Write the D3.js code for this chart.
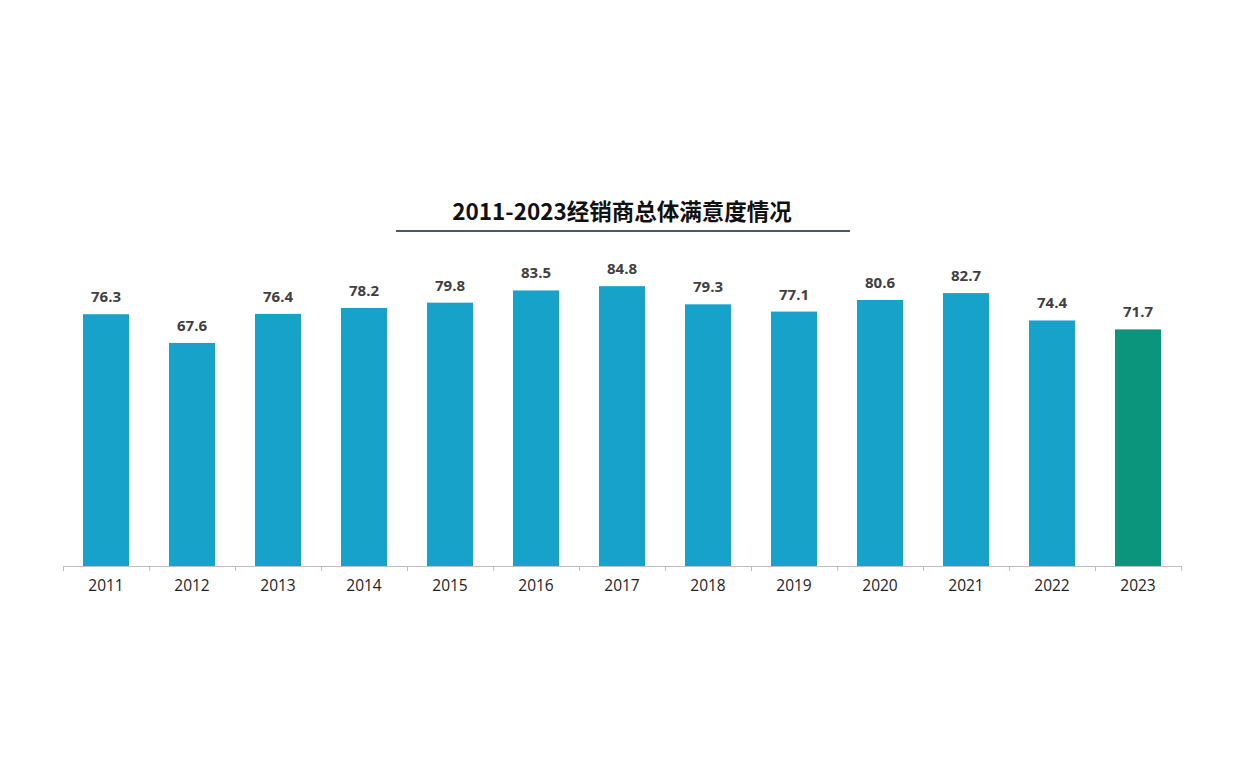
<!DOCTYPE html>
<html><head><meta charset="utf-8">
<script src="https://cdn.jsdelivr.net/npm/d3@7"></script>
<style>body{margin:0;background:#fff}svg{display:block}</style>
</head><body>
<svg id="c" width="1242" height="781"></svg>
<script>
const years = ["2011","2012","2013","2014","2015","2016","2017","2018","2019","2020","2021","2022","2023"];
const scores = [76.3,67.6,76.4,78.2,79.8,83.5,84.8,79.3,77.1,80.6,82.7,74.4,71.7];
const titleText = "2011-2023经销商总体满意度情况";

const svg = d3.select("#c");
const x = d3.scaleBand().domain(years).range([63,1181]).paddingInner(0.465).paddingOuter(0.2325);
const y = d3.scaleLinear().domain([0,100]).range([566,236]);

svg.append("text").attr("x",622).attr("y",220).attr("text-anchor","middle")
  .attr("font-family","'Noto Sans CJK SC','Noto Sans',sans-serif").attr("font-weight","bold")
  .attr("font-size",22.5).attr("fill","#111").text(titleText);
svg.append("line").attr("x1",396).attr("x2",850).attr("y1",231).attr("y2",231)
  .attr("stroke","#4f5a60").attr("stroke-width",2);

svg.selectAll("rect.bar").data(years).enter().append("rect")
  .attr("x",d=>x(d)).attr("width",x.bandwidth())
  .attr("y",(d,i)=>y(scores[i])).attr("height",(d,i)=>y(0)-y(scores[i]))
  .attr("fill",(d,i)=>i===years.length-1?"#0b957d":"#17a2c9");

svg.selectAll("text.val").data(years).enter().append("text")
  .attr("x",d=>x(d)+x.bandwidth()/2).attr("y",(d,i)=>y(scores[i])-12)
  .attr("text-anchor","middle").attr("font-family","'Open Sans','Noto Sans',sans-serif")
  .attr("font-weight","bold").attr("font-size",15).attr("fill","#404040")
  .text((d,i)=>scores[i].toFixed(1));

const axis = d3.axisBottom(x).tickSize(0).tickPadding(14);
const g = svg.append("g").attr("transform","translate(0,566)").call(axis);
g.select(".domain").attr("stroke","#bfbfbf").attr("d","M63,0.5H1181");
g.selectAll("text").attr("font-family","'Open Sans','Noto Sans',sans-serif").attr("font-size",15.5).attr("fill","#222");
const bounds = years.map((d,i)=>63+i*x.step()).concat([1181]);
g.selectAll("line.b").data(bounds).enter().append("line").attr("class","b")
  .attr("x1",d=>d+0.5).attr("x2",d=>d+0.5).attr("y1",0).attr("y2",5).attr("stroke","#bfbfbf");
</script>
</body></html>
